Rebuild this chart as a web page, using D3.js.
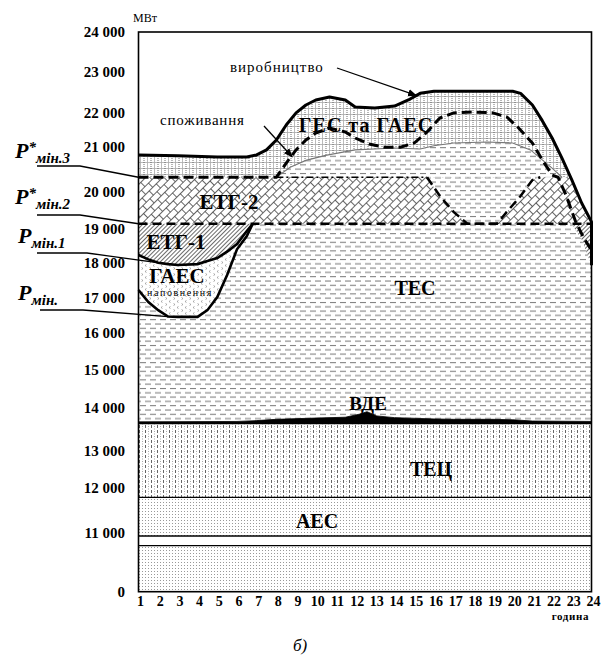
<!DOCTYPE html>
<meta charset="utf-8">
<style>
  body { margin: 0; background: #fff; }
  text { font-family: "Liberation Serif", "Times New Roman", serif; fill: #000; }
</style>
<div id="chart"></div>
<script src="https://cdn.jsdelivr.net/npm/d3@7/dist/d3.min.js"></script>
<script>

// axis values
var yTicks = [0, 11000, 12000, 13000, 14000, 15000, 16000, 17000, 18000, 19000, 20000, 21000, 22000, 23000, 24000];
var hourTicks = [1, 2, 3, 4, 5, 6, 7, 8, 9, 10, 11, 12, 13, 14, 15, 16, 17, 18, 19, 20, 21, 22, 23, 24];

// constant levels, MW
var aesTop = 11800, tecTop = 13650, pMin2 = 19150, pMin3 = 20330;
var breakBand = [8670, 10490];

// production (виробництво)
var prodHours  = [1, 3, 5, 6.5, 7, 7.5, 8, 8.5, 9, 9.5, 10, 10.7, 11.5, 12, 13, 14, 14.7, 15.3, 16, 20, 20.4, 21, 21.5, 22, 22.5, 23, 23.5, 24, 24];
var prodValues = [20820, 20800, 20775, 20775, 20820, 20930, 21200, 21650, 22010, 22200, 22320, 22390, 22320, 22150, 22130, 22175, 22320, 22480, 22530, 22530, 22480, 22200, 21780, 21260, 20750, 20270, 19710, 19200, 17930];

// consumption (споживання)
var consHours  = [1, 8, 8.5, 9, 9.5, 10, 10.7, 11.5, 12, 12.7, 13.5, 14.3, 15, 15.6, 16.3, 17, 18, 19, 19.7, 20.3, 21, 21.5, 22, 22.3, 22.7, 23.2, 23.6, 24];
var consValues = [20330, 20330, 20640, 20930, 21200, 21410, 21560, 21440, 21260, 21080, 20990, 20990, 21110, 21410, 21860, 22010, 22030, 22010, 21890, 21560, 21110, 20710, 20380, 20330, 19930, 19200, 18750, 18370];

// upper edge of ТЕС
var tesHours  = [1, 8, 8.7, 9.5, 10.5, 12, 14, 15.3, 16, 17, 18.7, 20, 20.9, 21.5, 22, 22.5, 22.9, 23, 23.5, 24];
var tesValues = [20330, 20330, 20550, 20700, 20810, 20930, 20970, 20950, 21030, 21110, 21140, 21110, 20930, 20710, 20530, 20330, 20330, 19150, 18700, 17930];

// ВДЕ upper edge
var vdeHours  = [1, 6, 7, 8, 10, 11.5, 12.2, 12.6, 13.1, 14, 16, 17, 19, 20, 21, 24];
var vdeValues = [13680, 13690, 13710, 13740, 13770, 13790, 13860, 13920, 13820, 13780, 13750, 13740, 13740, 13730, 13700, 13690];

// ЕТГ-2 cut (U)
var uHours  = [15.65, 16.3, 17.0, 17.7, 19.2, 19.7, 20.4, 21.0, 21.4];
var uValues = [20330, 19900, 19470, 19150, 19150, 19470, 19900, 20270, 20330];

// ГАЕС наповнення: Pмін and ЕТГ-1 lower edge
var gaesHours  = [1, 1.5, 2, 2.5, 3, 4, 4.5, 5, 5.5, 6, 6.5, 6.8];
var pminValues = [17220, 16880, 16650, 16470, 16460, 16460, 16650, 17020, 17650, 18400, 18800, 19150];
var etg1Values = [18230, 18100, 18000, 17960, 17935, 17960, 18050, 18140, 18330, 18560, 18950, 19150];

function pts(h, v) { return h.map(function(d, i) { return [d, v[i]]; }); }
var prod = pts(prodHours, prodValues),
    cons = pts(consHours, consValues),
    tes  = pts(tesHours, tesValues),
    vde  = pts(vdeHours, vdeValues),
    ucut = pts(uHours, uValues),
    pmin = pts(gaesHours, pminValues),
    etg1 = pts(gaesHours, etg1Values);

var svg = d3.select("#chart").append("svg")
    .attr("width", 602)
    .attr("height", 662);

var x = d3.scaleLinear().domain([1, 24]).range([138.5, 591.5]);
var y = d3.scaleLinear().domain(yTicks)
    .range([591.7, 533.3, 488.3, 450.7, 408.3, 370, 333.3, 297.7, 262.7, 229.3, 192.3, 146.7, 113.3, 71.7, 32]);

var line = d3.line().x(function(d) { return x(d[0]); }).y(function(d) { return y(d[1]); });
function areaTo(base) {
  return d3.area().x(function(d) { return x(d[0]); }).y0(y(base)).y1(function(d) { return y(d[1]); });
}

//patterns
var defs = svg.append("defs");
function pattern(id, w, h, rot) {
  var p = defs.append("pattern").attr("id", id)
      .attr("patternUnits", "userSpaceOnUse")
      .attr("width", w).attr("height", h);
  if (rot) p.attr("patternTransform", "rotate(" + rot + ")");
  p.append("rect").attr("width", w).attr("height", h).attr("fill", "#fff");
  return p;
}
var p = pattern("pAes", 3, 3);
p.append("rect").attr("x", 1).attr("y", 1).attr("width", 1).attr("height", 1).attr("fill", "#999");

p = pattern("pTec", 6, 5);
p.append("rect").attr("x", 1).attr("y", 0).attr("width", 1).attr("height", 3).attr("fill", "#666");
p.append("rect").attr("x", 4).attr("y", 1).attr("width", 1).attr("height", 1).attr("fill", "#aaa");
p.append("rect").attr("x", 4).attr("y", 3.5).attr("width", 1).attr("height", 1).attr("fill", "#aaa");

p = pattern("pTes", 10, 8.6);
p.append("rect").attr("x", 0).attr("y", 1).attr("width", 6).attr("height", 1).attr("fill", "#777");
p.append("rect").attr("x", 5).attr("y", 5.3).attr("width", 6).attr("height", 1).attr("fill", "#777");
p.append("rect").attr("x", -5).attr("y", 5.3).attr("width", 6).attr("height", 1).attr("fill", "#777");

p = pattern("pGes", 7, 6);
p.append("path").attr("d", "M0,0.5H7M0.5,0V6").attr("stroke", "#aaa").attr("stroke-width", 0.8);
p.append("path").attr("d", "M4,0V6").attr("stroke", "#333").attr("stroke-width", 0.7).attr("stroke-dasharray", "1,1");

p = pattern("pEtg2", 10, 12, -45);
p.append("path").attr("d", "M0,0.5H10M0,6.5H10M0.5,0.5V6.5M5.5,6.5V12")
    .attr("stroke", "#333").attr("stroke-width", 0.75).attr("fill", "none");

p = pattern("pEtg1", 3, 3, 45);
p.append("path").attr("d", "M1.5,0V3").attr("stroke", "#444").attr("stroke-width", 0.8);

p = pattern("pGaes", 8, 6);
p.append("path").attr("d", "M2.5,0.5L1,1.5L2.5,2.5M5.5,3.5L7,4.5L5.5,5.5")
    .attr("stroke", "#777").attr("stroke-width", 0.6).attr("fill", "none");

defs.append("clipPath").attr("id", "clipProd")
  .append("path").attr("d", areaTo(0)(prod));

// arrow head
defs.append("marker").attr("id", "arrow")
    .attr("viewBox", "0 0 10 10").attr("refX", 9).attr("refY", 5)
    .attr("markerWidth", 9).attr("markerHeight", 9).attr("markerUnits", "userSpaceOnUse")
    .attr("orient", "auto")
  .append("path").attr("d", "M0,1L10,5L0,9Z").attr("fill", "#000");

//regions under production
var g = svg.append("g").attr("clip-path", "url(#clipProd)");

g.append("path").attr("d", areaTo(0)(prod)).attr("fill", "url(#pGes)");
g.append("path").attr("d", areaTo(tecTop)(tes)).attr("fill", "url(#pTes)");
g.append("rect")
    .attr("x", x(1)).attr("y", y(pMin3))
    .attr("width", x(24) - x(1)).attr("height", y(pMin2) - y(pMin3))
    .attr("fill", "url(#pEtg2)");
g.append("path").attr("d", line(ucut) + "Z").attr("fill", "url(#pTes)");
g.append("path").attr("d", areaTo(pMin2)(etg1)).attr("fill", "url(#pEtg1)");
g.append("path").attr("d", areaTo(pMin2)(tes.filter(function(d) { return d[0] >= 23; })))
    .attr("fill", "url(#pEtg1)");
g.append("path")
    .attr("d", d3.area().x(function(d, i) { return x(d[0]); })
      .y0(function(d, i) { return y(pmin[i][1]); })
      .y1(function(d) { return y(d[1]); })(etg1))
    .attr("fill", "url(#pGaes)");

// АЕС, ТЕЦ, ВДЕ
svg.append("rect")
    .attr("x", x(1)).attr("y", y(aesTop))
    .attr("width", x(24) - x(1)).attr("height", y(0) - y(aesTop))
    .attr("fill", "url(#pAes)");
svg.append("rect")
    .attr("x", x(1)).attr("y", y(breakBand[1]))
    .attr("width", x(24) - x(1)).attr("height", y(breakBand[0]) - y(breakBand[1]))
    .attr("fill", "#fff");
svg.append("rect")
    .attr("x", x(1)).attr("y", y(tecTop))
    .attr("width", x(24) - x(1)).attr("height", y(aesTop) - y(tecTop))
    .attr("fill", "url(#pTec)");
svg.append("path").attr("d", areaTo(tecTop)(vde)).attr("fill", "#000").attr("stroke", "#000").attr("stroke-width", 0.8);

function hline(v, w) {
  svg.append("line")
      .attr("x1", x(1)).attr("x2", x(24))
      .attr("y1", y(v)).attr("y2", y(v))
      .attr("stroke", "#000").attr("stroke-width", w);
}
hline(tecTop, 2);
hline(aesTop, 1.3);
hline(breakBand[0], 1.3);
hline(breakBand[1], 1.3);

//curves
svg.append("path").attr("d", line(tes.filter(function(d) { return d[0] >= 8 && d[0] <= 22.5; })))
    .attr("fill", "none").attr("stroke", "#777").attr("stroke-width", 1.1);
svg.append("path").attr("d", line([[8, pMin3], [uHours[0], pMin3]]))
    .attr("fill", "none").attr("stroke", "#000").attr("stroke-width", 1.6).attr("stroke-dasharray", "7,3,2,3");
svg.append("path").attr("d", line([[1, pMin2], [24, pMin2]]))
    .attr("fill", "none").attr("stroke", "#000").attr("stroke-width", 2.5).attr("stroke-dasharray", "9,5");
svg.append("path").attr("d", line(ucut))
    .attr("fill", "none").attr("stroke", "#000").attr("stroke-width", 2.5).attr("stroke-dasharray", "9,5");
svg.append("path").attr("d", line(pmin))
    .attr("fill", "none").attr("stroke", "#000").attr("stroke-width", 2.6);
svg.append("path").attr("d", line(etg1))
    .attr("fill", "none").attr("stroke", "#000").attr("stroke-width", 2.6);
svg.append("path").attr("d", line(cons))
    .attr("fill", "none").attr("stroke", "#000").attr("stroke-width", 3).attr("stroke-dasharray", "10,5");
svg.append("path").attr("d", line(prod))
    .attr("fill", "none").attr("stroke", "#000").attr("stroke-width", 3).attr("stroke-linejoin", "round");

// frame
svg.append("rect")
    .attr("x", x(1)).attr("y", y(24000))
    .attr("width", x(24) - x(1)).attr("height", y(0) - y(24000))
    .attr("fill", "none").attr("stroke", "#000").attr("stroke-width", 1.6);

// axes labels
svg.selectAll(".ytick").data(yTicks).enter().append("text")
    .attr("class", "ytick")
    .attr("x", 125)
    .attr("y", function(d) { return y(d) + 5; })
    .attr("text-anchor", "end")
    .style("font-size", "15px").style("font-weight", "bold")
    .text(function(d) { return d3.format(",")(d).replace(",", " "); });

svg.selectAll(".xtick").data(hourTicks).enter().append("text")
    .attr("class", "xtick")
    .attr("x", function(d) { return x(d) + 2; })
    .attr("y", 606)
    .attr("text-anchor", "middle")
    .style("font-size", "14px").style("font-weight", "bold")
    .text(function(d) { return d; });

svg.append("text").attr("x", 589).attr("y", 620).attr("text-anchor", "end")
    .style("font-size", "11px").style("font-weight", "bold").style("letter-spacing", "0.6px")
    .text("година");
svg.append("text").attr("x", 133).attr("y", 22)
    .style("font-size", "12px")
    .text("МВт");
svg.append("text").attr("x", 300).attr("y", 651).attr("text-anchor", "middle")
    .style("font-size", "17px").style("font-style", "italic")
    .text("б)");

// region labels
function label(t, px, py, size, spacing) {
  svg.append("text").attr("x", px).attr("y", py).attr("text-anchor", "middle")
      .style("font-size", size + "px").style("font-weight", "bold")
      .style("letter-spacing", (spacing || 0) + "px")
      .text(t);
}
label("ГЕС та ГАЕС", 366, 132, 20, 1);
label("ЕТГ-2", 229, 209, 21);
label("ЕТГ-1", 176, 249, 21);
label("ГАЕС", 177, 283, 21);
label("ТЕС", 415, 295, 20);
label("ВДЕ", 368, 410, 19);
label("ТЕЦ", 431, 476, 20);
label("АЕС", 317, 528, 20);
svg.append("text").attr("x", 180).attr("y", 296).attr("text-anchor", "middle")
    .style("font-size", "10px").style("letter-spacing", "1.6px")
    .text("наповнення");

// curve names with arrows
svg.append("text").attr("x", 230).attr("y", 72)
    .style("font-size", "15px").style("letter-spacing", "1px")
    .text("виробництво");
svg.append("line").attr("x1", 337).attr("y1", 68).attr("x2", x(15.1)).attr("y2", y(22430))
    .attr("stroke", "#000").attr("stroke-width", 1.3).attr("marker-end", "url(#arrow)");
svg.append("text").attr("x", 160).attr("y", 125)
    .style("font-size", "15px").style("letter-spacing", "0.8px")
    .text("споживання");
svg.append("line").attr("x1", 264).attr("y1", 126).attr("x2", x(8.8)).attr("y2", y(20780))
    .attr("stroke", "#000").attr("stroke-width", 1.3).attr("marker-end", "url(#arrow)");

// P min annotations
function pLabel(px, py, star, sub) {
  var t = svg.append("text").attr("x", px).attr("y", py)
      .style("font-weight", "bold").style("font-style", "italic");
  t.append("tspan").style("font-size", "22px").text("P");
  if (star) {
    t.append("tspan").style("font-size", "15px").attr("dy", -6).text("*");
    t.append("tspan").style("font-size", "15px").attr("dy", 11).text(sub);
  } else {
    t.append("tspan").style("font-size", "15px").attr("dy", 5).text(sub);
  }
}
pLabel(15, 158, true, "мін.3");
pLabel(15, 204, true, "мін.2");
pLabel(18, 243, false, "мін.1");
pLabel(18, 300, false, "мін.");

function leader(x0, y0, x1, px, py) {
  svg.append("path")
      .attr("d", "M" + x0 + "," + y0 + "H" + x1 + "L" + px + "," + py)
      .attr("fill", "none").attr("stroke", "#000").attr("stroke-width", 1.3);
}
leader(37, 166, 80, x(1), y(pMin3));
leader(37, 215, 80, x(1), y(pMin2));
leader(37, 253, 87, x(1.95), y(18000));
leader(40, 310, 83, x(2.5), y(16470));

</script>
